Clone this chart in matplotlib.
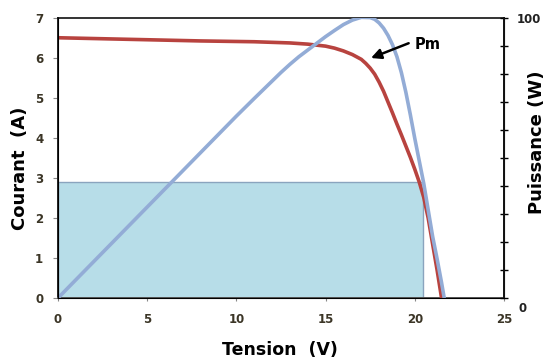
import matplotlib

matplotlib.use("Agg")
import matplotlib.pyplot as plt
from matplotlib.patches import Rectangle

# I-V curve (red)
iv_v = [0, 4, 8, 11, 13, 14, 15, 15.5, 16, 16.5, 17, 17.25, 17.5, 17.75, 18, 18.25, 18.5,
        18.75, 19, 19.25, 19.5, 19.75, 20, 20.25, 20.5, 20.75, 21, 21.25, 21.5]
iv_i = [6.51, 6.47, 6.43, 6.41, 6.38, 6.35, 6.30, 6.25, 6.18, 6.09, 5.97, 5.87, 5.75, 5.60,
        5.40, 5.17, 4.90, 4.63, 4.35, 4.08, 3.80, 3.52, 3.22, 2.90, 2.52, 2.00, 1.35, 0.70, 0.0]

# P-V curve (blue), right axis
pv_v = [0, 5, 10, 11, 12, 12.5, 13, 13.5, 14, 14.5, 15, 15.5, 16, 16.5, 17, 17.5, 17.75, 18,
        18.25, 18.5, 18.75, 19, 19.25, 19.5, 19.75, 20, 20.25, 20.5, 20.75, 21, 21.25, 21.5, 21.65]
pv_p = [0, 32.5, 65, 71.3, 77.5, 80.6, 83.5, 86.2, 88.6, 91, 93.4, 95.6, 97.7, 99.3, 100.3,
        100.2, 99.6, 98.3, 96.4, 93.8, 90.5, 86.2, 80.5, 73.5, 65.5, 57, 49, 41, 31.5, 22,
        14, 5.5, 0]

# shaded operating rectangle
rect_v = 20.44
rect_i = 2.91

x_ticks = [0, 5, 10, 15, 20, 25]
y_ticks = [0, 1, 2, 3, 4, 5, 6, 7]
p_ticks = list(range(0, 101, 10))

C_RED = "#B8433F"
C_BLUE = "#93ACD6"
C_FILL = "#B7DDE8"
C_EDGE = "#8AA4BE"
C_TICK = "#3B3526"

fig = plt.figure(figsize=(5.48, 3.63), dpi=100)
ax = fig.add_axes([0.1058, 0.179, 0.8139, 0.771])

ax.add_patch(Rectangle((0, 0), rect_v, rect_i, facecolor=C_FILL,
                       edgecolor=C_EDGE, linewidth=1.0, zorder=1))
ax.plot(iv_v, iv_i, color=C_RED, linewidth=2.6, zorder=3, solid_capstyle="round")

ax.set_xlim(0, 25)
ax.set_ylim(0, 7)
ax.set_xticks(x_ticks)
ax.set_yticks(y_ticks)
ax.tick_params(axis="y", direction="out", length=3.6, width=0.8,
               labelsize=8.5, colors="#888888", labelcolor=C_TICK, pad=7)
ax.tick_params(axis="x", direction="out", length=2.5, width=0.8,
               labelsize=8.5, colors="#888888", labelcolor=C_TICK, pad=8)
for lab in ax.get_xticklabels() + ax.get_yticklabels():
    lab.set_fontweight("bold")
ax.spines["left"].set_color("#222222")
ax.spines["left"].set_linewidth(1.4)
ax.spines["top"].set_color("#111111")
ax.spines["top"].set_linewidth(1.2)
ax.spines["bottom"].set_color("#555555")
ax.spines["bottom"].set_linewidth(1.4)

ax2 = ax.twinx()
ax2.plot(pv_v, pv_p, color=C_BLUE, linewidth=2.6, zorder=2, solid_capstyle="round")
ax2.set_ylim(0, 100)
ax2.set_yticks(p_ticks)
ax2.set_yticklabels(["100" if p == 100 else "" for p in p_ticks])
ax2.tick_params(axis="y", direction="inout", length=6, width=1.0,
                labelsize=8.5, labelcolor="#222222", pad=6)
for lab in ax2.get_yticklabels():
    lab.set_fontweight("bold")
ax2.spines["right"].set_color("#111111")
ax2.spines["right"].set_linewidth(1.4)
ax2.spines["top"].set_visible(False)

fig.text(523 / 548, 1 - 308 / 363, "0", ha="center", va="center",
         fontsize=8.5, fontweight="bold", color="#222222")

fig.text(20 / 548, 1 - 168 / 363, "Courant  (A)", rotation=90, ha="center",
         va="center", fontsize=13, fontweight="bold")
fig.text(537 / 548, 1 - 142 / 363, "Puissance (W)", rotation=90, ha="center",
         va="center", fontsize=13, fontweight="bold")
fig.text(280 / 548, 1 - 350 / 363, "Tension  (V)", ha="center", va="center",
         fontsize=12.5, fontweight="bold")

ax2.annotate("", xy=(17.4, 85.4), xytext=(19.8, 91.4),
             arrowprops=dict(arrowstyle="-|>,head_length=0.6,head_width=0.3",
                             color="black", linewidth=1.8), zorder=5)
ax2.text(20.0, 90.7, "Pm", fontsize=10.5, fontweight="bold", ha="left", va="center")

fig.savefig("out.png", dpi=100)
